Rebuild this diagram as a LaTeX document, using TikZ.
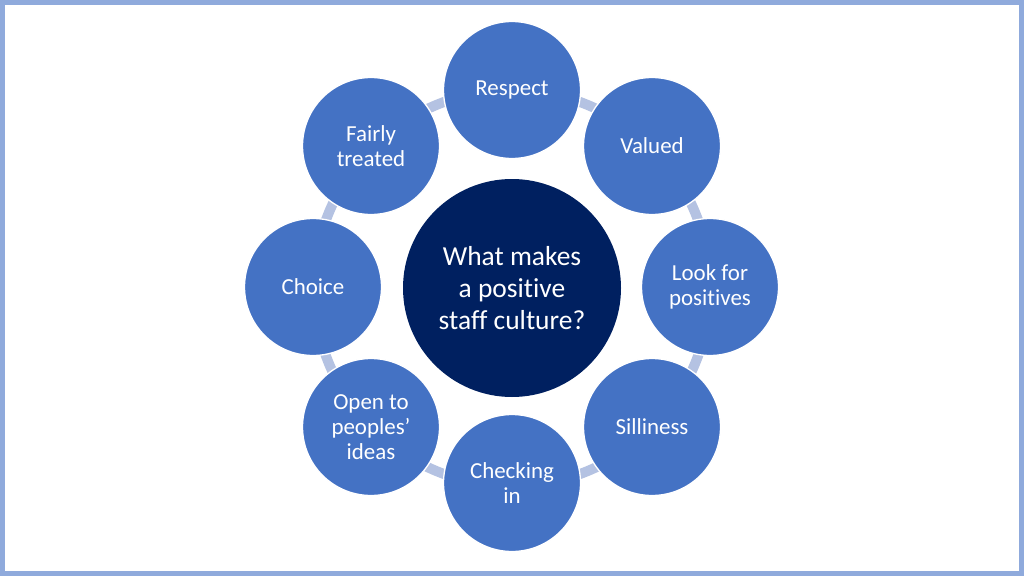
\documentclass[tikz,border=0pt]{standalone}
\usepackage{fontspec}
\setmainfont[Ligatures=NoCommon]{Carlito}
\definecolor{frameblue}{HTML}{8FAADC}
\definecolor{ringblue}{HTML}{B4C2E2}
\definecolor{petal}{HTML}{4472C4}
\definecolor{hub}{HTML}{002060}
\tikzset{
  petal/.style={circle,fill=petal,draw=white,line width=1pt,minimum size=137*0.75pt,inner sep=0pt,
    text=white,align=center,font=\fontsize{17.2}{19}\selectfont},
  hub/.style={circle,fill=hub,minimum size=218*0.75pt,inner sep=0pt,
    text=white,align=center,font=\fontsize{20.6}{24}\selectfont}
}
\begin{document}
\begin{tikzpicture}[x=0.75pt,y=0.75pt]
	\fill[white] (0,0) rectangle (1024,576);
	\useasboundingbox (0,0) rectangle (1024,576);
	\draw[frameblue,line width=5*0.75pt] (2.5,2.5) rectangle (1021.5,573.5);
	\draw[ringblue,line width=10*0.75pt] (512,288) circle (198);
	\node[hub] (culture) at (512,288) {What makes\\a positive\\staff culture?};
	\node[petal] (respect) at (512,486) {Respect};
	\node[petal] (valued) at (652,430) {Valued};
	\node[petal] (look) at (710,289) {Look for\\positives};
	\node[petal] (silly) at (652,149) {Silliness};
	\node[petal] (checking) at (512,93) {Checking\\in};
	\node[petal] (open) at (371,149) {Open to\\peoples'\\ideas};
	\node[petal] (choice) at (313,289) {Choice};
	\node[petal] (fairly) at (371,430) {Fairly\\treated};
\end{tikzpicture}
\end{document}
